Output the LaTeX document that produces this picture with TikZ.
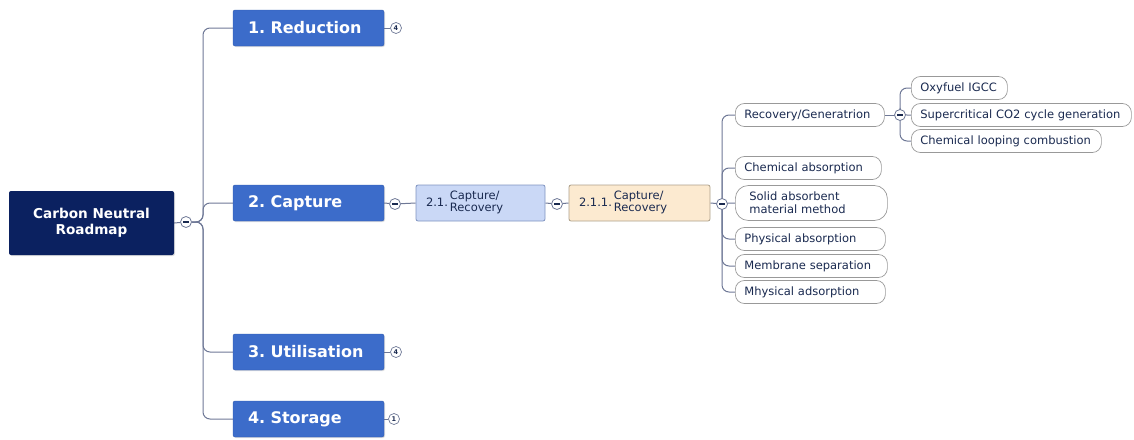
\documentclass[tikz,border=0pt]{standalone}
\usepackage{fontspec}
\setmainfont{DejaVu Sans}
\usetikzlibrary{shadows}
\pgfdeclarelayer{bg}
\pgfsetlayers{bg,main}
\newcommand\topicfmt{\hyphenpenalty=10000\relax\frenchspacing}
\definecolor{navy}{HTML}{0B2160}
\definecolor{mainblue}{HTML}{3C6CCA}
\definecolor{lblue}{HTML}{CAD8F6}
\definecolor{lblueb}{HTML}{7F93C0}
\definecolor{lorange}{HTML}{FCEAD0}
\definecolor{lorangeb}{HTML}{ADA08A}
\definecolor{connc}{HTML}{6E7896}
\definecolor{txt}{HTML}{1A2A50}
\tikzset{
 rootbox/.style={fill=navy, rounded corners=2, minimum width=165, minimum height=64, text=white, font=\bfseries\fontsize{13.6}{16}\selectfont, align=center, drop shadow={opacity=0.25, shadow xshift=1pt, shadow yshift=-1pt}},
 topic/.style={fill=mainblue, draw=mainblue!85!black, rounded corners=2, minimum height=36, text width=121, inner xsep=15, align=left, text=white, font=\bfseries\fontsize{16}{18}\selectfont, execute at begin node=\topicfmt, drop shadow={opacity=0.25, shadow xshift=1pt, shadow yshift=-1pt}},
 subbox/.style={rounded corners=2, minimum height=36, text=txt, font=\fontsize{11.5}{13.5}\selectfont, inner xsep=10, inner ysep=2, align=left, line width=0.8pt},
 leaf/.style={draw=gray!80, fill=white, rounded corners=9, minimum height=23, anchor=west, text=txt, font=\fontsize{11.5}{13}\selectfont, align=left, inner xsep=9, inner ysep=1, line width=0.7pt},
 collapse/.style={circle, draw=connc, fill=white, minimum size=11, inner sep=0, line width=0.8pt, path picture={\draw[line width=1.1pt, txt] ([xshift=-3]path picture bounding box.center) -- ([xshift=3]path picture bounding box.center);}},
 badge/.style={circle, draw=connc, fill=white, minimum size=11, inner sep=0, line width=0.7pt, font=\bfseries\fontsize{6.5}{6.5}\selectfont, text=txt},
 connector/.style={draw=connc, line width=1pt, rounded corners=7},
}
\begin{document}
\begin{tikzpicture}[x=1pt,y=-1pt]
\useasboundingbox (0,0) rectangle (1134,439);
% root
\node[rootbox] (root) at (91.5,223) {Carbon Neutral\\Roadmap};
\node[collapse] (c0) at (186,222) {};
\coordinate (trunk) at (203,222);
% topics
\node[topic] (red) at (308.5,28) {1. Reduction};
\node[topic] (cap) at (308.5,203) {2. Capture};
\node[topic] (uti) at (308.5,352) {3. Utilisation};
\node[topic] (sto) at (308.5,419) {4. Storage};
\node[badge] (b1) at (396,28) {4};
\node[collapse] (c1) at (395,204) {};
\node[badge] (b3) at (396,352) {4};
\node[badge] (b4) at (394,419) {1};
% sub boxes
\node[subbox, fill=lblue, draw=lblueb, text width=109] (s1) at (480.5,203)
  {2.1.\,\begin{tabular}[c]{@{}l@{}}Capture/\\[-2pt]Recovery\end{tabular}};
\node[collapse] (c2) at (557,204) {};
\node[subbox, fill=lorange, draw=lorangeb, text width=121] (s2) at (639.5,203)
  {2.1.1.\,\begin{tabular}[c]{@{}l@{}}Capture/\\[-2pt]Recovery\end{tabular}};
\node[collapse] (c3) at (722,204) {};
% leaves
\node[leaf, text width=131] (l1) at (735,115) {Recovery/Generatrion};
\node[leaf, text width=128] (l2) at (735,168) {Chemical absorption};
\node[leaf, text width=134, minimum height=35, rounded corners=13] (l3) at (735,203) {\hspace*{5pt}Solid absorbent\\\hspace*{5pt}material method};
\node[leaf, text width=132] (l4) at (735,239) {Physical absorption};
\node[leaf, text width=134] (l5) at (735,266) {Membrane separation};
\node[leaf, text width=132] (l6) at (735,292) {Mhysical adsorption};
\node[collapse] (c4) at (900,115) {};
\node[leaf, text width=78] (m1) at (911,88) {Oxyfuel IGCC};
\node[leaf, text width=202] (m2) at (911,115) {Supercritical CO2 cycle generation};
\node[leaf, text width=172] (m3) at (911,141) {Chemical looping combustion};
% connectors
\begin{pgfonlayer}{bg}
\draw[connector] (root.east) -- (c0);
\draw[connector] (c0) -- (trunk) |- (red.west);
\draw[connector] (c0) -- (trunk) |- (cap.west);
\draw[connector] (c0) -- (trunk) |- (uti.west);
\draw[connector] (c0) -- (trunk) |- (sto.west);
\draw[connector] (red.east) -- (b1);
\draw[connector] (cap.east) -- (c1) -- (s1.west);
\draw[connector] (s1.east) -- (c2) -- (s2.west);
\draw[connector] (uti.east) -- (b3);
\draw[connector] (sto.east) -- (b4);
\draw[connector] (s2.east) -- (c3.center);
\foreach \l in {l1,l2,l3,l4,l5,l6} \draw[connector] (c3.center) |- (\l.west);
\draw[connector] (l1.east) -- (c4.center);
\foreach \l in {m1,m2,m3} \draw[connector] (c4.center) |- (\l.west);
\end{pgfonlayer}
\end{tikzpicture}
\end{document}
